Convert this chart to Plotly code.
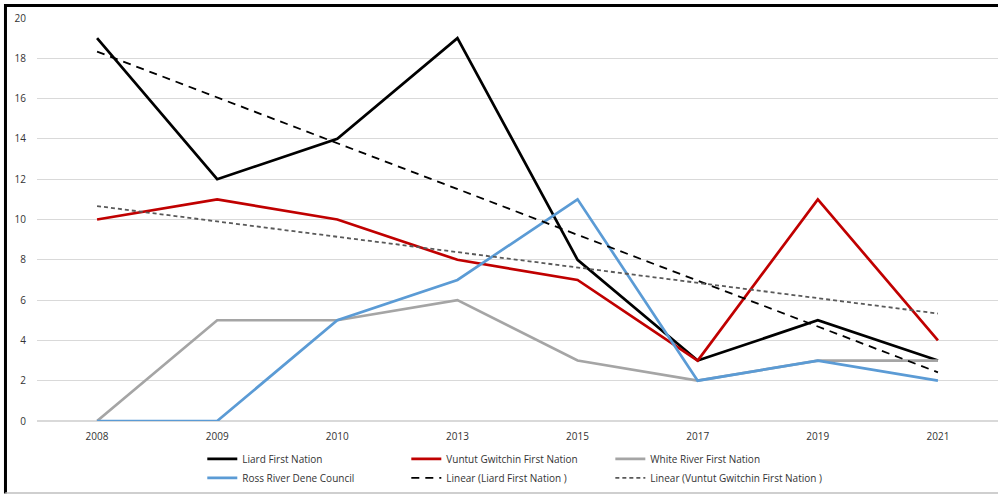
import numpy as np
import plotly.graph_objects as go

years = ["2008", "2009", "2010", "2013", "2015", "2017", "2019", "2021"]
liard = [19, 12, 14, 19, 8, 3, 5, 3]
vuntut = [10, 11, 10, 8, 7, 3, 11, 4]
white_river = [0, 5, 5, 6, 3, 2, 3, 3]
ross_river = [0, 0, 5, 7, 11, 2, 3, 2]

idx = np.arange(len(years))
def linear_trend(vals):
    m, b = np.polyfit(idx, vals, 1)
    return list(m * idx + b)

fig = go.Figure()
fig.add_trace(go.Scatter(x=years, y=liard, mode="lines", name="Liard First Nation",
                         line=dict(color="#000000", width=2.7), legend="legend"))
fig.add_trace(go.Scatter(x=years, y=vuntut, mode="lines", name="Vuntut Gwitchin First Nation",
                         line=dict(color="#c00000", width=2.7), legend="legend2"))
fig.add_trace(go.Scatter(x=years, y=white_river, mode="lines", name="White River First Nation",
                         line=dict(color="#a5a5a5", width=2.7), legend="legend3"))
fig.add_trace(go.Scatter(x=years, y=ross_river, mode="lines", name="Ross River Dene Council",
                         line=dict(color="#5b9bd5", width=2.7), legend="legend"))
fig.add_trace(go.Scatter(x=years, y=linear_trend(liard), mode="lines", name="Linear (Liard First Nation )",
                         line=dict(color="#000000", width=1.8, dash="8px,6px"), legend="legend2"))
fig.add_trace(go.Scatter(x=years, y=linear_trend(vuntut), mode="lines", name="Linear (Vuntut Gwitchin First Nation )",
                         line=dict(color="#595959", width=1.8, dash="4px,3px"), legend="legend3"))

legend_common = dict(orientation="v", xanchor="left", yanchor="top", y=-0.058,
                     tracegroupgap=0, font=dict(size=10, color="#333333"), itemwidth=30,
                     bgcolor="rgba(0,0,0,0)", traceorder="normal")

fig.update_layout(
    width=998, height=495,
    margin=dict(l=37, r=0, t=18, b=74, autoexpand=False),
    paper_bgcolor="white", plot_bgcolor="white",
    font=dict(family="Open Sans", size=10, color="#333333"),
    showlegend=True,
    legend=dict(x=0.172, **legend_common),
    legend2=dict(x=0.3843, **legend_common),
    legend3=dict(x=0.5966, **legend_common),
    xaxis=dict(type="category", range=[-0.5, 7.5], showgrid=False, showline=False,
               ticks="", ticklabelstandoff=8, tickfont=dict(size=10, color="#333333")),
    yaxis=dict(range=[0, 20], dtick=2, showgrid=True, gridcolor="#d9d9d9", gridwidth=1,
               zeroline=True, zerolinecolor="#d9d9d9", showline=False, ticks="",
               ticklabelstandoff=10, tickfont=dict(size=10, color="#333333")),
    shapes=[
        dict(type="line", xref="paper", yref="paper", x0=-0.033, x1=1.01, y0=1.031, y1=1.031,
             line=dict(color="black", width=3)),
        dict(type="line", xref="paper", yref="paper", x0=-0.0328, x1=-0.0328, y0=1.035, y1=-0.18,
             line=dict(color="black", width=3)),
        dict(type="line", xref="paper", yref="paper", x0=-0.033, x1=1.01, y0=-0.1787, y1=-0.1787,
             line=dict(color="#bfbfbf", width=1.5)),
    ],
)
fig.write_html("out.html", config={"displayModeBar": False},
               post_script="document.body.style.margin='0';")
